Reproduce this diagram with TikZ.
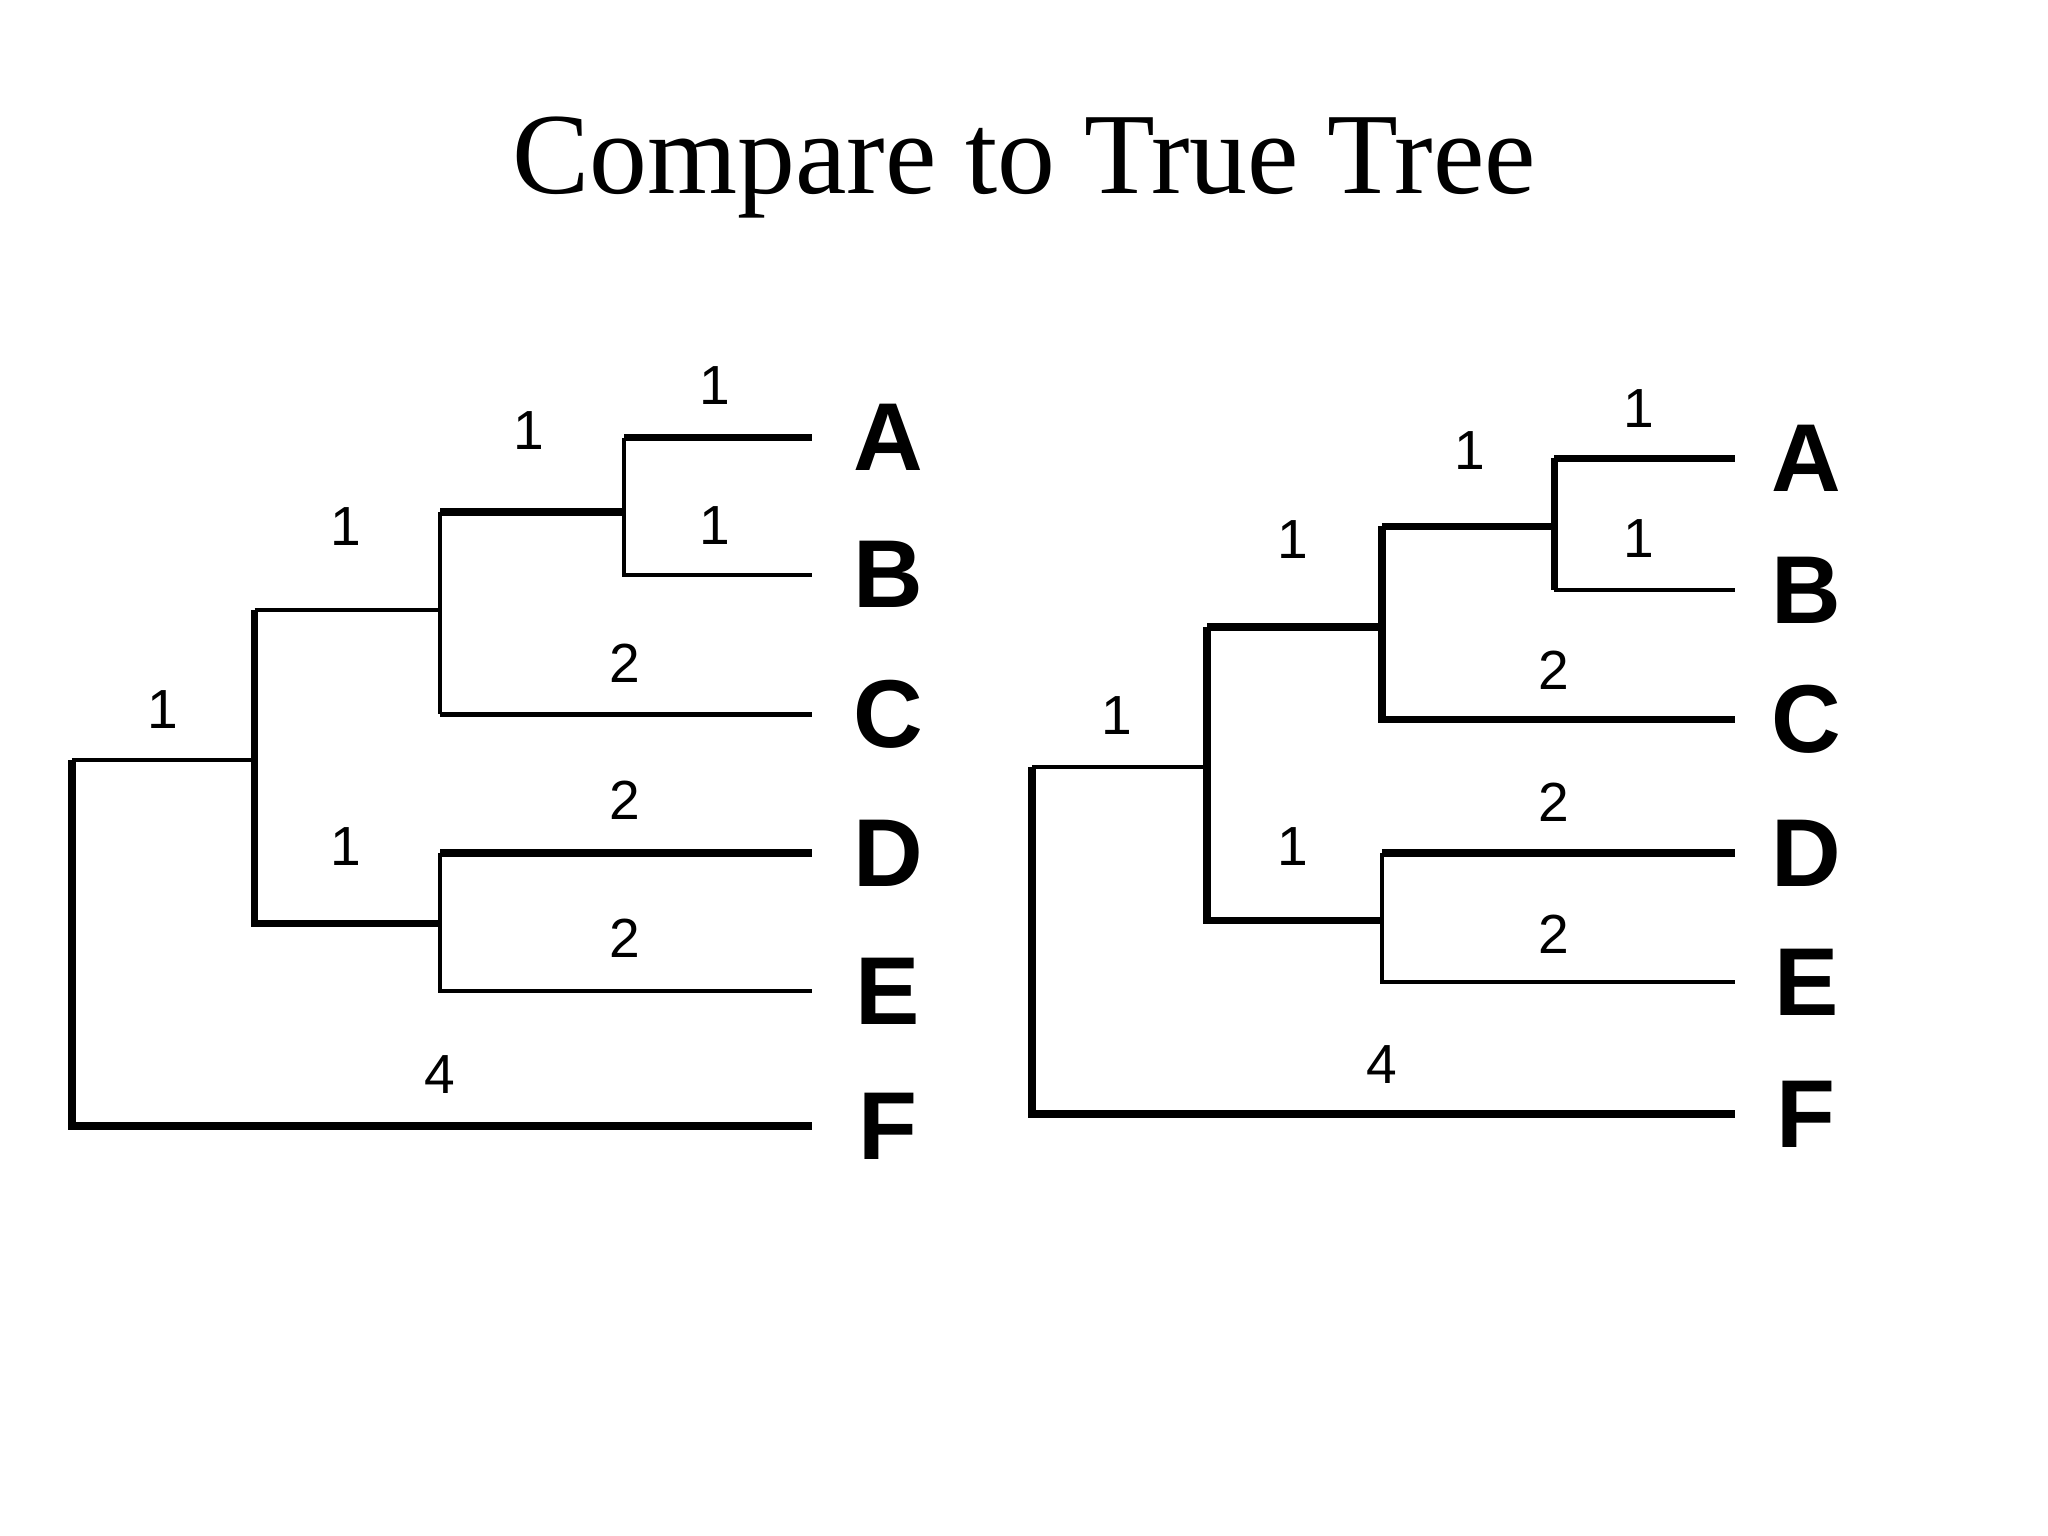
\documentclass[tikz,border=0pt]{standalone}
\usepackage{fontspec}
\setmainfont{Liberation Serif}
\newfontfamily\lsans{Liberation Sans}
\begin{document}
\begin{tikzpicture}[x=0.01cm,y=-0.01cm,
  thk/.style={line width=1.6pt},
  thn/.style={line width=0.9pt},
  leaf/.style={font=\lsans\bfseries\fontsize{21}{21}\selectfont},
  blen/.style={font=\lsans\fontsize{12}{12}\selectfont}]
\useasboundingbox (0,0) rectangle (1568,1176);
\node[font=\fontsize{25.2}{25.2}\selectfont] (title) at (784,128) {Compare to True Tree};
% left tree
\foreach \n/\x/\y in {r/55/582,rF/55/862,n1/195/582,n1u/195/467,n1l/195/707,n2/337/467,n2u/337/392,n2l/337/547,n3/478/392,n3u/478/335,n3l/478/440,n4/337/707,n4u/337/653,n4l/337/759}
  \coordinate (L\n) at (\x,\y);
\foreach \n/\y in {A/335,B/440,C/547,D/653,E/759,F/862}{
  \coordinate (LE\n) at (622,\y);
  \node[leaf] (LT\n) at (680,\y) {\n};}
\draw[thk] (Lr) -- (LrF) -- (LEF);
\draw[thn] (Lr) -- (Ln1);
\draw[thk] (Ln1u) -- (Ln1l) -- (Ln4);
\draw[thn] (Ln1u) -- (Ln2);
\draw[thn] (Ln2u) -- (Ln2l);
\draw[thk] (Ln2u) -- (Ln3);
\draw[thn] (Ln3u) -- (Ln3l) -- (LEB);
\draw[thk] (Ln3u) -- (LEA);
\draw[thn] (Ln2l) -- (LEC);
\draw[thn] (Ln4u) -- (Ln4l) -- (LEE);
\draw[thk] (Ln4u) -- (LED);
\foreach \t/\x/\y in {1/125/543,1/265/403,1/405/330,1/547/295,1/547/402,2/478/508,2/478/613,2/478/718,1/265/648,4/337/823}
  \node[blen] at (\x,\y) {\t};
% right tree
\foreach \n/\x/\y in {r/790/587,rF/790/853,n1/924/587,n1u/924/480,n1l/924/705,n2/1058/480,n2u/1058/403,n2l/1058/551,n3/1190/403,n3u/1190/351,n3l/1190/452,n4/1058/705,n4u/1058/653,n4l/1058/752}
  \coordinate (R\n) at (\x,\y);
\foreach \n/\y in {A/351,B/452,C/551,D/653,E/752,F/853}{
  \coordinate (RE\n) at (1328,\y);
  \node[leaf] (RT\n) at (1383,\y) {\n};}
\draw[thk] (Rr) -- (RrF) -- (REF);
\draw[thn] (Rr) -- (Rn1);
\draw[thk] (Rn1u) -- (Rn1l) -- (Rn4);
\draw[thk] (Rn1u) -- (Rn2);
\draw[thk] (Rn2u) -- (Rn2l) -- (REC);
\draw[thk] (Rn2u) -- (Rn3);
\draw[thk] (Rn3u) -- (Rn3l);
\draw[thn] (Rn3l) -- (REB);
\draw[thk] (Rn3u) -- (REA);
\draw[thn] (Rn4u) -- (Rn4l) -- (REE);
\draw[thk] (Rn4u) -- (RED);
\foreach \t/\x/\y in {1/855/548,1/990/413,1/1125/345,1/1255/313,1/1255/412,2/1190/513,2/1190/614,2/1190/715,1/990/648,4/1058/815}
  \node[blen] at (\x,\y) {\t};
\end{tikzpicture}
\end{document}
